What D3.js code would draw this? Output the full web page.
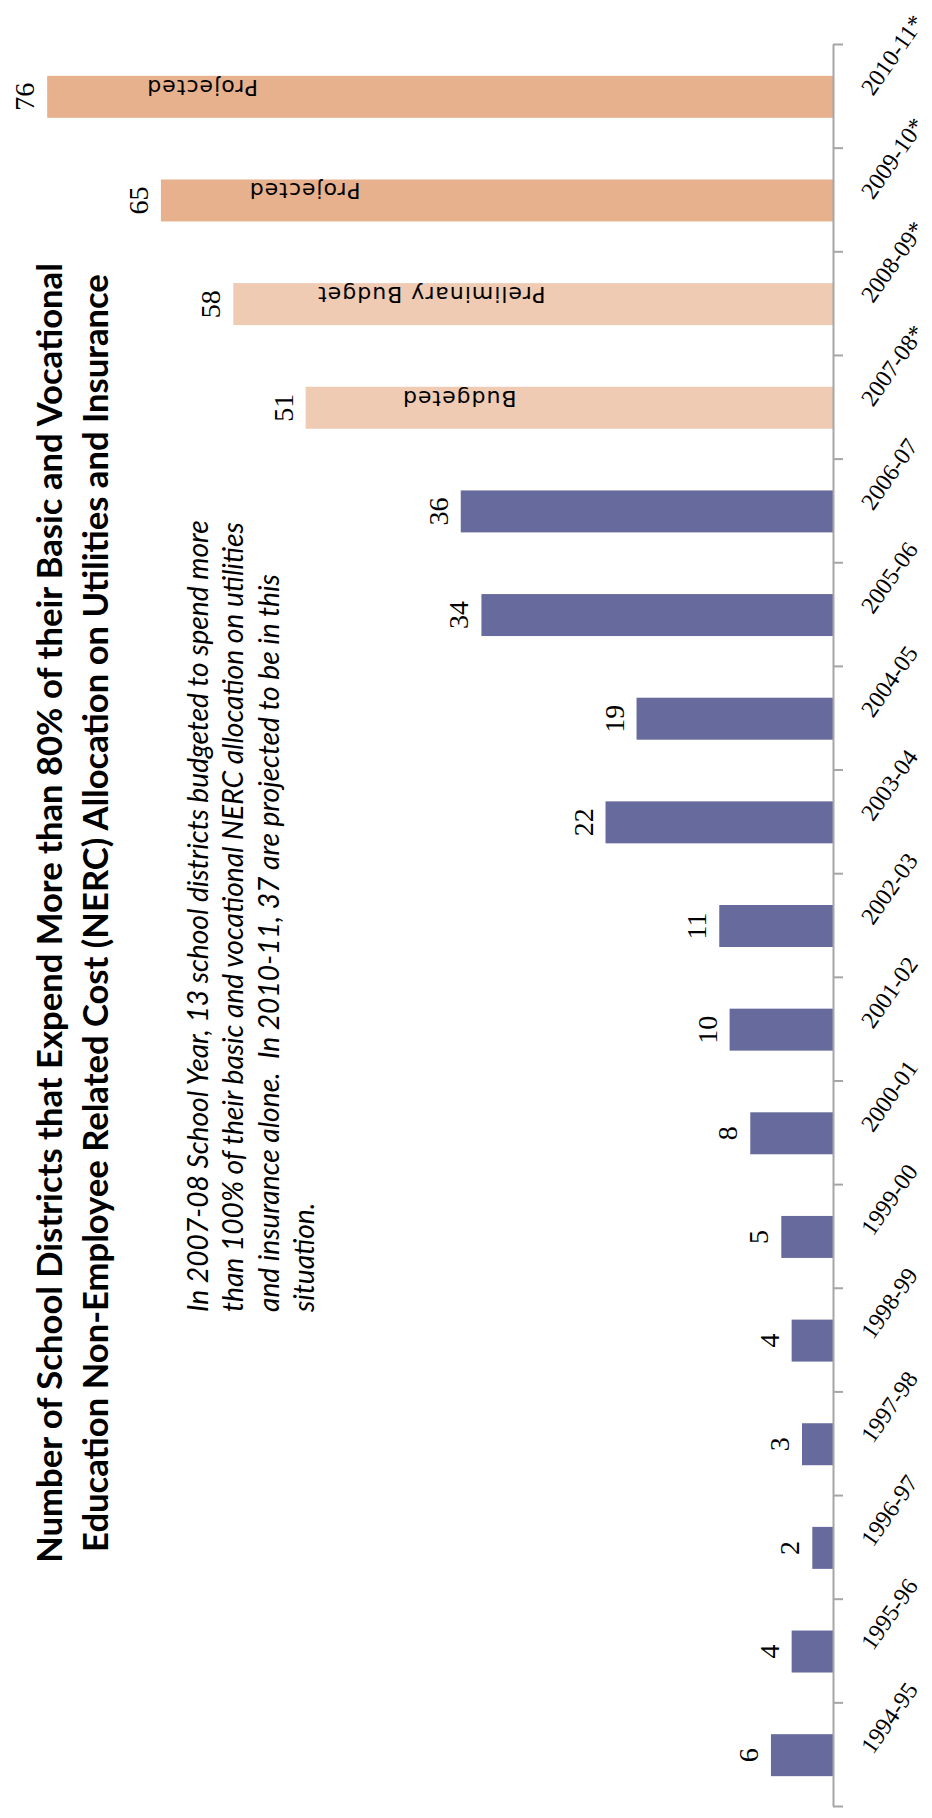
<!DOCTYPE html>
<html>
<head>
<meta charset="utf-8">
<script src="https://cdn.jsdelivr.net/npm/d3@7"></script>
<style>
  body { margin: 0; background: #fff; }
  svg { display: block; }
</style>
</head>
<body>
<svg id="chart" width="932" height="1818"></svg>
<script>
const seasons = ["1994-95", "1995-96", "1996-97", "1997-98", "1998-99", "1999-00", "2000-01", "2001-02",
  "2002-03", "2003-04", "2004-05", "2005-06", "2006-07", "2007-08*", "2008-09*", "2009-10*", "2010-11*"];
const districts = [6, 4, 2, 3, 4, 5, 8, 10, 11, 22, 19, 34, 36, 51, 58, 65, 76];
const status = ["actual", "actual", "actual", "actual", "actual", "actual", "actual", "actual", "actual",
  "actual", "actual", "actual", "actual", "budget", "budget", "projected", "projected"];

// words written inside the last four bars, and where (in districts) each one starts
const barNotes = ["", "", "", "", "", "", "", "", "", "", "", "", "", "Budgeted", "Preliminary Budget", "Projected", "Projected"];
const noteAt = [0, 0, 0, 0, 0, 0, 0, 0, 0, 0, 0, 0, 0, 30.6, 27.8, 45.7, 55.6];

const titleLines = [
  "Number of School Districts that Expend More than 80% of their Basic and Vocational",
  "Education Non-Employee Related Cost (NERC) Allocation on Utilities and Insurance"
];
const remarkLines = [
  "In 2007-08 School Year, 13 school districts budgeted to spend more",
  "than 100% of their basic and vocational NERC allocation on utilities",
  "and insurance alone.  In 2010-11, 37 are projected to be in this",
  "situation."
];

const rows = seasons.map((s, i) => ({ season: s, value: districts[i], kind: status[i], note: barNotes[i], at: noteAt[i] }));

const svg = d3.select("#chart");
const W = 1818;

// it is an ordinary column chart, turned a quarter turn to the left
const g = svg.append("g").attr("transform", `translate(0,${W}) rotate(-90)`);

const x = d3.scaleBand()
  .domain(seasons)
  .range([11, 1773])
  .paddingInner(0.595)
  .paddingOuter(0.2975);

const y = d3.scaleLinear().domain([0, 80]).range([833, 5.8]);

const color = d3.scaleOrdinal()
  .domain(["actual", "budget", "projected"])
  .range(["#666a9c", "#efcbb4", "#e8b18e"]);

// bars
g.append("g")
  .selectAll("rect")
  .data(rows)
  .join("rect")
    .attr("x", d => x(d.season))
    .attr("y", d => y(d.value))
    .attr("width", x.bandwidth())
    .attr("height", d => y(0) - y(d.value))
    .attr("fill", d => color(d.kind));

// axis, ticks sit between the seasons
const edge = d3.scaleLinear().domain([0, seasons.length]).range(x.range());
const axis = g.append("g")
  .attr("transform", `translate(0,${y(0)})`)
  .call(d3.axisBottom(edge).tickValues(d3.range(seasons.length + 1)).tickSize(10).tickSizeOuter(0).tickFormat(""));
axis.select(".domain").attr("stroke", "#a6a6a6").attr("stroke-width", 2);
axis.selectAll(".tick line").attr("stroke", "#a6a6a6").attr("stroke-width", 2);

// season labels
g.append("g")
  .selectAll("text")
  .data(rows)
  .join("text")
    .attr("transform", d => `translate(${x(d.season) + x.bandwidth() / 2},873) rotate(35)`)
    .style("font-family", "'Liberation Serif', 'DejaVu Serif', serif")
    .style("font-size", "24px")
    .attr("fill", "#000")
    .text(d => d.season);

// value labels
g.append("g")
  .selectAll("text")
  .data(rows)
  .join("text")
    .attr("x", d => x(d.season) + x.bandwidth() / 2)
    .attr("y", d => y(d.value) - 13)
    .attr("text-anchor", "middle")
    .style("font-family", "'Liberation Serif', 'DejaVu Serif', serif")
    .style("font-size", "28px")
    .text(d => d.value);

// notes inside bars
g.append("g")
  .selectAll("text")
  .data(rows.filter(d => d.note))
  .join("text")
    .attr("transform", d => `translate(${x(d.season) + x.bandwidth() - 4},${y(d.at)}) rotate(-90)`)
    .style("font-family", "'DejaVu Sans', sans-serif")
    .style("font-size", "22px")
    .style("letter-spacing", "1px")
    .text(d => d.note);

// title
const tl = g.append("g").selectAll("text")
  .data(titleLines)
  .join("text")
    .attr("x", 905)
    .attr("y", (d, i) => 62 + i * 46)
    .attr("text-anchor", "middle")
    .style("font-family", "Lato, 'Open Sans', sans-serif")
    .style("font-weight", "bold")
    .style("font-size", "36px")
    .text(d => d);
const tFit = 36 * 1300 / tl.node().getComputedTextLength();
tl.style("font-size", tFit + "px");

// remark
const rl = g.append("g").selectAll("text")
  .data(remarkLines)
  .join("text")
    .attr("x", 506)
    .attr("y", (d, i) => 208 + i * 35.3)
    .style("font-family", "Lato, 'Open Sans', sans-serif")
    .style("font-style", "italic")
    .style("font-size", "28px")
    .style("white-space", "pre")
    .text(d => d);
const rFit = 28 * 792 / rl.node().getComputedTextLength();
rl.style("font-size", rFit + "px");
</script>
</body>
</html>
